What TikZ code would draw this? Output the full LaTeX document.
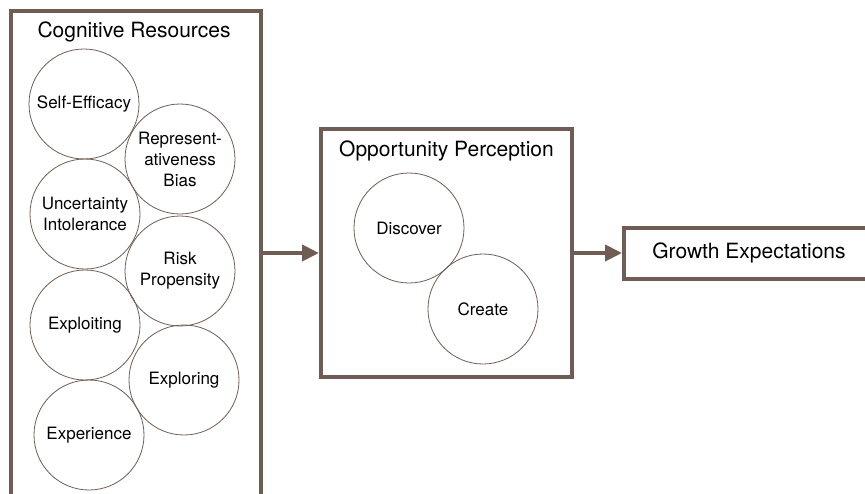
\documentclass[tikz,border=0pt]{standalone}
\usepackage{fontspec}
\setmainfont{TeX Gyre Heros}
\usetikzlibrary{arrows.meta}
\definecolor{boxbrown}{RGB}{111,92,84}
\begin{document}
\begin{tikzpicture}[x=1pt,y=-1pt,
  frame/.style={draw=boxbrown, line width=4pt, inner sep=0pt},
  bubble/.style={circle, draw=boxbrown, line width=0.8pt, minimum size=110pt, inner sep=0pt, align=center, font=\fontsize{17}{21}\selectfont},
  heading/.style={font=\fontsize{21}{25}\selectfont},
  link/.style={draw=boxbrown, line width=4pt, -{Triangle[length=17pt,width=16pt]}}]
\useasboundingbox (0,0) rectangle (865,493);
\node[frame, anchor=north west, minimum width=250pt, minimum height=520pt] (cog) at (9,9) {};
\node[frame, minimum width=251pt, minimum height=248pt] (opp) at (446.5,253) {};
\node[frame, anchor=west, minimum width=250pt, minimum height=51pt, heading] (growth) at (622,253) {Growth Expectations};
\node[heading, anchor=base] (cogtitle) at (134,37) {Cognitive Resources};
\node[heading, anchor=base] (opptitle) at (446.5,156) {Opportunity Perception};
\node[bubble] (efficacy) at (84,104) {Self-Efficacy};
\node[bubble] (bias) at (180,159) {Represent-\\ativeness\\Bias};
\node[bubble] (uncert) at (85,214) {Uncertainty\\Intolerance};
\node[bubble] (risk) at (180,271) {Risk\\Propensity};
\node[bubble] (exploit) at (85,325) {Exploiting};
\node[bubble] (explore) at (184,380) {Exploring};
\node[bubble] (exper) at (89,435) {Experience};
\node[bubble] (discover) at (409,228) {Discover};
\node[bubble] (create) at (483,309) {Create};
\draw[link] (cog.east |- opp.west) -- (opp.west);
\draw[link] (opp.east) -- (growth.west);
\end{tikzpicture}
\end{document}
